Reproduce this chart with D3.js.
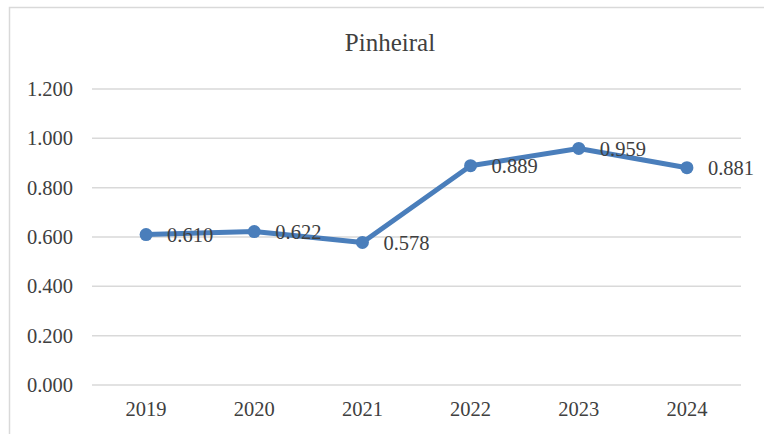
<!DOCTYPE html>
<html>
<head>
<meta charset="utf-8">
<script src="https://cdn.jsdelivr.net/npm/d3@7"></script>
<style>
  body { margin: 0; background: #fff; }
  text { font-family: "Liberation Serif", "Times New Roman", serif; fill: #404040; }
</style>
</head>
<body>
<div id="chart"></div>
<script>
const years = ["2019", "2020", "2021", "2022", "2023", "2024"];
const values = [0.610, 0.622, 0.578, 0.889, 0.959, 0.881];
const yTicks = [0, 0.2, 0.4, 0.6, 0.8, 1.0, 1.2];

const width = 764;
const height = 434;
const margin = { top: 89, right: 23, bottom: 49, left: 92 };

const svg = d3.select("#chart")
    .append("svg")
    .attr("width", width)
    .attr("height", height);

// chart border (left + top only visible)
svg.append("path")
    .attr("d", `M9.5,${height} V7.5 H${width}`)
    .attr("fill", "none")
    .attr("stroke", "#d9d9d9")
    .attr("stroke-width", 1.5);

const x = d3.scaleBand()
    .domain(years)
    .range([margin.left, width - margin.right]);

const y = d3.scaleLinear()
    .domain([0, 1.2])
    .range([height - margin.bottom, margin.top]);

// gridlines
svg.append("g")
    .selectAll("line")
    .data(yTicks)
    .enter()
    .append("line")
    .attr("x1", margin.left)
    .attr("x2", width - margin.right)
    .attr("y1", d => y(d))
    .attr("y2", d => y(d))
    .attr("stroke", "#d9d9d9")
    .attr("stroke-width", 1.5);

// y axis labels
const yAxis = svg.append("g")
    .attr("transform", `translate(${margin.left - 19},0)`)
    .call(d3.axisLeft(y).tickValues(yTicks).tickFormat(d3.format(".3f")).tickSize(0).tickPadding(0));
yAxis.select(".domain").remove();
yAxis.selectAll("text")
    .attr("font-size", 20.5)
    .attr("font-family", "Liberation Serif, serif")
    .attr("fill", "#404040");

// x axis labels
const xAxis = svg.append("g")
    .attr("transform", `translate(0,${height - margin.bottom})`)
    .call(d3.axisBottom(x).tickSize(0).tickPadding(16));
xAxis.select(".domain").remove();
xAxis.selectAll("text")
    .attr("font-size", 20.5)
    .attr("font-family", "Liberation Serif, serif")
    .attr("fill", "#404040");

// title
svg.append("text")
    .attr("x", 390)
    .attr("y", 51)
    .attr("text-anchor", "middle")
    .attr("font-size", 25)
    .text("Pinheiral");

const line = d3.line()
    .x((d, i) => x(years[i]) + x.bandwidth() / 2)
    .y(d => y(d));

svg.append("path")
    .datum(values)
    .attr("d", line)
    .attr("fill", "none")
    .attr("stroke", "#4a7ebb")
    .attr("stroke-width", 5)
    .attr("stroke-linejoin", "round");

svg.append("g")
    .selectAll("circle")
    .data(values)
    .enter()
    .append("circle")
    .attr("cx", (d, i) => x(years[i]) + x.bandwidth() / 2)
    .attr("cy", d => y(d))
    .attr("r", 6.5)
    .attr("fill", "#4a7ebb");

// data labels
svg.append("g")
    .selectAll("text")
    .data(values)
    .enter()
    .append("text")
    .attr("x", (d, i) => x(years[i]) + x.bandwidth() / 2 + 21)
    .attr("y", d => y(d))
    .attr("dy", "0.35em")
    .attr("font-size", 20.5)
    .text(d => d3.format(".3f")(d));
</script>
</body>
</html>
